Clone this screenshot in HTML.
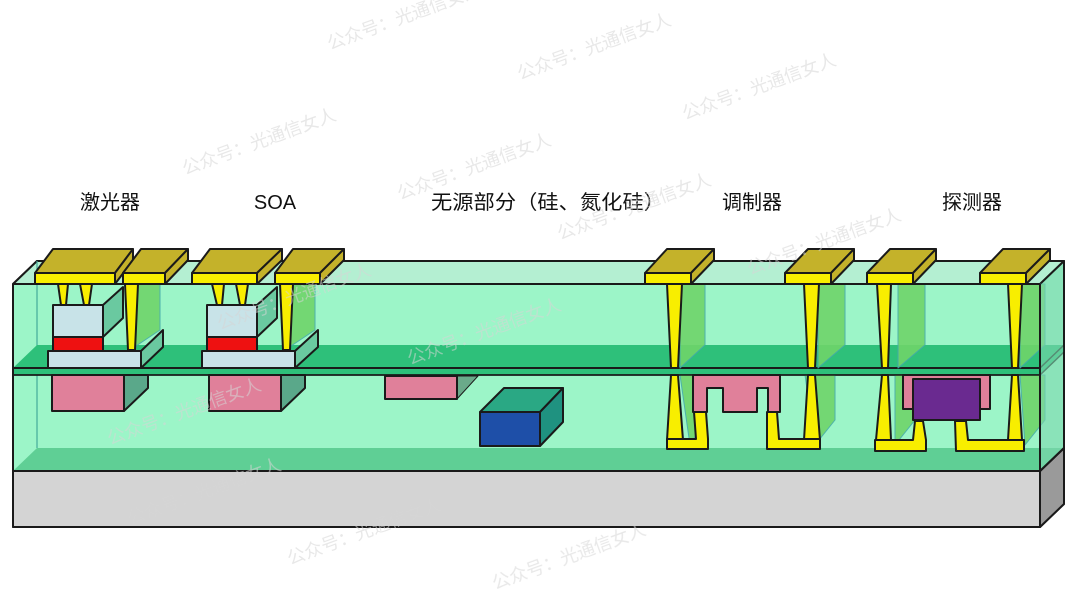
<!DOCTYPE html>
<html><head><meta charset="utf-8"><style>
html,body{margin:0;padding:0;background:#fff;}
svg{display:block;}
text{font-family:"Liberation Sans","Noto Sans CJK SC",sans-serif;}
</style></head><body>
<svg width="1080" height="607" viewBox="0 0 1080 607" xmlns="http://www.w3.org/2000/svg">
<g stroke="#1a1a1a" stroke-width="2" stroke-linejoin="round">
<polygon points="13,471 37,448 1064,448 1064,504 1040,527 13,527" fill="#d4d4d4"/>
<polygon points="1040,471 1064,448 1064,504 1040,527" fill="#9a9a9a"/>
<rect x="13" y="471" width="1027" height="56" fill="#d4d4d4"/>
<polygon points="13,284 37,261 1064,261 1064,448 1040,471 13,471" fill="#9cf5c8"/>
<polygon points="13,284 37,261 1064,261 1040,284" fill="#b4efd2"/>
<line x1="37" y1="261" x2="37" y2="448" stroke-width="1.2" stroke="#4a9"/>
<polygon points="13,471 37,448 1064,448 1040,471" fill="#5fcf95" stroke="none"/>
<polygon points="13,368 37,345 1064,345 1040,368" fill="#2ec07a" stroke="none"/>
<rect x="13" y="368" width="1027" height="7" fill="#2ec07a" stroke-width="1.5"/>
<line x1="13" y1="368" x2="1040" y2="368" />
<polygon points="1040,368 1064,345 1064,352 1040,375" fill="#2ec07a" stroke-width="1.5"/>

<g fill="#6fd46a" stroke="#4aa" stroke-width="1" opacity="0.9">
<polygon points="130,284 160,284 160,330 130,350"/>
<polygon points="285,284 315,284 315,330 285,350"/>
<polygon points="680,284 705,284 705,345 680,368"/>
<polygon points="818,284 845,284 845,345 818,368"/>
<polygon points="898,284 925,284 925,345 898,368"/>
<polygon points="1020,284 1045,284 1045,345 1020,368"/>
<polygon points="680,375 705,375 705,420 690,445"/>
<polygon points="805,375 835,375 835,420 815,445"/>
<polygon points="895,375 915,375 915,420 895,445"/>
<polygon points="1020,375 1045,375 1045,420 1025,445"/>
</g>

<polygon points="103,305 123,287 123,318 103,337" fill="#6ac9a0"/>
<polygon points="141,351 163,330 163,347 141,368" fill="#6ac9a0"/>
<rect x="48" y="351" width="93" height="17" fill="#c8e3e8"/>
<rect x="53" y="337" width="50" height="14" fill="#ee1111"/>
<rect x="53" y="305" width="50" height="32" fill="#c8e3e8"/>
<polygon points="124,375 148,375 148,388 124,411" fill="#5aa88a"/>
<rect x="52" y="375" width="72" height="36" fill="#e0809a"/>
<polygon points="257,305 277,287 277,318 257,337" fill="#6ac9a0"/>
<polygon points="295,351 318,330 318,347 295,368" fill="#6ac9a0"/>
<rect x="202" y="351" width="93" height="17" fill="#c8e3e8"/>
<rect x="207" y="337" width="50" height="14" fill="#ee1111"/>
<rect x="207" y="305" width="50" height="32" fill="#c8e3e8"/>
<polygon points="281,375 305,375 305,388 281,411" fill="#5aa88a"/>
<rect x="209" y="375" width="72" height="36" fill="#e0809a"/>
<polygon points="457,376 478,376 457,399" fill="#6aaa8a" stroke-width="1"/>
<rect x="385" y="376" width="72" height="23" fill="#e0809a"/>
<polygon points="480,412 504,388 563,388 540,412" fill="#2aa884"/>
<polygon points="540,412 563,388 563,422 540,446" fill="#1f9280"/>
<rect x="480" y="412" width="60" height="34" fill="#1e4fa8"/>
<polygon points="693,375 780,375 780,412 768,412 768,388 757,388 757,412 723,412 723,388 707,388 707,412 693,412" fill="#e0809a"/>
<rect x="903" y="375" width="87" height="34" fill="#e0809a"/>
<rect x="913" y="379" width="67" height="41" fill="#6a2a90"/>

<g fill="#f8ee00">
<polygon points="58,284 68,284 66,305 61,305"/>
<polygon points="80,284 92,284 89,305 84,305"/>
<polygon points="125,284 138,284 135,350 128,350"/>
<polygon points="212,284 224,284 222,305 217,305"/>
<polygon points="236,284 248,284 245,305 240,305"/>
<polygon points="280,284 293,284 290,350 283,350"/>
<polygon points="667,284 682,284 678,368 671,368"/>
<polygon points="671,375 678,375 683,440 667,440"/>
<polygon points="804,284 819,284 815,368 808,368"/>
<polygon points="808,375 815,375 820,440 804,440"/>
<polygon points="667,439 696,439 694,412 706,412 708,439 708,449 667,449"/>
<polygon points="767,412 777,412 779,439 820,439 820,449 767,449"/>
<polygon points="877,284 891,284 888,368 882,368"/>
<polygon points="882,375 888,375 891,440 876,440"/>
<polygon points="1008,284 1022,284 1018,368 1012,368"/>
<polygon points="1012,375 1018,375 1022,440 1008,440"/>
<polygon points="875,440 913,440 915,421 923,421 926,440 926,451 875,451"/>
<polygon points="955,421 966,421 968,440 1024,440 1024,451 956,451"/>
</g>

<line x1="13" y1="284" x2="1040" y2="284"/>
<line x1="13" y1="375" x2="1040" y2="375" stroke-width="1.5"/>
<line x1="13" y1="471" x2="1040" y2="471"/>
<line x1="13" y1="284" x2="13" y2="527"/>
<line x1="1040" y1="284" x2="1040" y2="527"/>
<polygon points="1040,284 1064,261 1064,448 1040,471" fill="#7fd8b0" opacity="0.6"/>
<line x1="1040" y1="471" x2="1064" y2="448"/>

<g>
<polygon points="35,273 53,249 133,249 115,273" fill="#c4b22a"/><polygon points="115,273 133,249 133,260 115,284" fill="#c4b22a"/><rect x="35" y="273" width="80" height="11" fill="#f8ee00"/>
<polygon points="123,273 141,249 188,249 165,273" fill="#c4b22a"/><polygon points="165,273 188,249 188,260 165,284" fill="#c4b22a"/><rect x="123" y="273" width="42" height="11" fill="#f8ee00"/>
<polygon points="192,273 210,249 282,249 257,273" fill="#c4b22a"/><polygon points="257,273 282,249 282,260 257,284" fill="#c4b22a"/><rect x="192" y="273" width="65" height="11" fill="#f8ee00"/>
<polygon points="275,273 293,249 344,249 320,273" fill="#c4b22a"/><polygon points="320,273 344,249 344,260 320,284" fill="#c4b22a"/><rect x="275" y="273" width="45" height="11" fill="#f8ee00"/>
<polygon points="645,273 667,249 714,249 691,273" fill="#c4b22a"/><polygon points="691,273 714,249 714,260 691,284" fill="#c4b22a"/><rect x="645" y="273" width="46" height="11" fill="#f8ee00"/>
<polygon points="785,273 808,249 854,249 831,273" fill="#c4b22a"/><polygon points="831,273 854,249 854,260 831,284" fill="#c4b22a"/><rect x="785" y="273" width="46" height="11" fill="#f8ee00"/>
<polygon points="867,273 890,249 936,249 913,273" fill="#c4b22a"/><polygon points="913,273 936,249 936,260 913,284" fill="#c4b22a"/><rect x="867" y="273" width="46" height="11" fill="#f8ee00"/>
<polygon points="980,273 1003,249 1050,249 1026,273" fill="#c4b22a"/><polygon points="1026,273 1050,249 1050,260 1026,284" fill="#c4b22a"/><rect x="980" y="273" width="46" height="11" fill="#f8ee00"/>
</g>
</g>

<g font-size="20" fill="#111" text-anchor="middle">
<text x="110" y="209">激光器</text>
<text x="275" y="209">SOA</text>
<text x="548" y="209" textLength="234" lengthAdjust="spacingAndGlyphs">无源部分（硅、氮化硅）</text>
<text x="752" y="209">调制器</text>
<text x="972" y="209">探测器</text>
</g>

<g font-size="18" fill="#d6d6d6" opacity="0.55">
<text transform="translate(330,50) rotate(-20)">公众号：光通信女人</text>
<text transform="translate(520,80) rotate(-20)">公众号：光通信女人</text>
<text transform="translate(685,120) rotate(-20)">公众号：光通信女人</text>
<text transform="translate(185,175) rotate(-20)">公众号：光通信女人</text>
<text transform="translate(400,200) rotate(-20)">公众号：光通信女人</text>
<text transform="translate(560,240) rotate(-20)">公众号：光通信女人</text>
<text transform="translate(750,275) rotate(-20)">公众号：光通信女人</text>
<text transform="translate(220,330) rotate(-20)">公众号：光通信女人</text>
<text transform="translate(410,365) rotate(-20)">公众号：光通信女人</text>
<text transform="translate(110,445) rotate(-20)">公众号：光通信女人</text>
<text transform="translate(130,525) rotate(-20)">公众号：光通信女人</text>
<text transform="translate(290,565) rotate(-20)">公众号：光通信女人</text>
<text transform="translate(495,590) rotate(-20)">公众号：光通信女人</text>
</g>
</svg>
</body></html>
